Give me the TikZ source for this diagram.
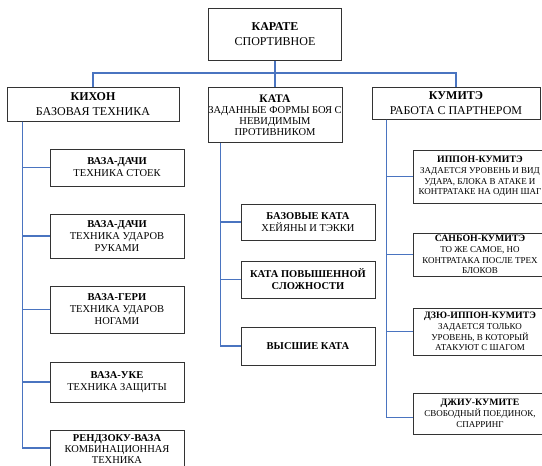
\documentclass[tikz,border=0pt]{standalone}
\usepackage{fontspec}
\setmainfont{Liberation Serif}
\definecolor{connblue}{HTML}{4A74C0}
\begin{document}
\begin{tikzpicture}[x=1pt,y=-1pt,
  box/.style={draw=black!80, line width=1pt, align=center, inner sep=0pt, fill=white},
  big/.style={box, font=\fontsize{12}{14.5}\selectfont},
  mid/.style={box, font=\fontsize{10.5}{11}\selectfont},
  kid/.style={box, font=\fontsize{10.5}{12}\selectfont},
  rkid/.style={box, font=\fontsize{9}{10.8}\selectfont},
  conn/.style={draw=connblue, line width=1.2pt}]
\clip (0,0) rectangle (542,466);
\fill[white] (0,0) rectangle (542,466);
% top
\node[big, minimum width=133pt, minimum height=52pt] (top) at (275,34) {\textbf{КАРАТЕ}\\СПОРТИВНОЕ};
% level 2
\node[big, minimum width=172pt, minimum height=34pt] (kihon) at (93,104) {\textbf{КИХОН}\\БАЗОВАЯ ТЕХНИКА};
\node[mid, minimum width=134pt, minimum height=55pt, anchor=north] (kata) at (275,87) {{\fontsize{11.5}{12.5}\selectfont\textbf{КАТА}}\\ЗАДАННЫЕ ФОРМЫ БОЯ С\\НЕВИДИМЫМ\\ПРОТИВНИКОМ};
\node[big, minimum width=168pt, minimum height=32pt] (kumite) at (456,103) {\textbf{КУМИТЭ}\\РАБОТА С ПАРТНЕРОМ};
% left children
\node[kid, minimum width=134pt, minimum height=37pt] (l1) at (117,167.5) {\textbf{ВАЗА-ДАЧИ}\\ТЕХНИКА СТОЕК};
\node[kid, minimum width=134pt, minimum height=44pt] (l2) at (117,236) {\textbf{ВАЗА-ДАЧИ}\\ТЕХНИКА УДАРОВ\\РУКАМИ};
\node[kid, minimum width=134pt, minimum height=47pt] (l3) at (117,309.5) {\textbf{ВАЗА-ГЕРИ}\\ТЕХНИКА УДАРОВ\\НОГАМИ};
\node[kid, minimum width=134pt, minimum height=40pt] (l4) at (117,382) {\textbf{ВАЗА-УКЕ}\\ТЕХНИКА ЗАЩИТЫ};
\node[kid, font=\fontsize{10.5}{11}\selectfont, minimum width=134pt, minimum height=38pt, anchor=north] (l5) at (117,430) {\textbf{РЕНДЗОКУ-ВАЗА}\\КОМБИНАЦИОННАЯ\\ТЕХНИКА};
% middle children
\node[kid, minimum width=134pt, minimum height=36pt] (m1) at (308,222) {\textbf{БАЗОВЫЕ КАТА}\\ХЕЙЯНЫ И ТЭККИ};
\node[kid, minimum width=134pt, minimum height=37pt] (m2) at (308,279.5) {\textbf{КАТА ПОВЫШЕННОЙ}\\\textbf{СЛОЖНОСТИ}};
\node[kid, minimum width=134pt, minimum height=38pt] (m3) at (308,346) {\textbf{ВЫСШИЕ КАТА}};
% right children
\node[rkid, minimum width=134pt, minimum height=53pt] (r1) at (480,176.5) {{\fontsize{9.8}{11}\selectfont\textbf{ИППОН-КУМИТЭ}}\\ЗАДАЕТСЯ УРОВЕНЬ И ВИД\\УДАРА, БЛОКА В АТАКЕ И\\КОНТРАТАКЕ НА ОДИН ШАГ};
\node[rkid, minimum width=134pt, minimum height=43pt] (r2) at (480,254.5) {{\fontsize{9.8}{11}\selectfont\textbf{САНБОН-КУМИТЭ}}\\ТО ЖЕ САМОЕ, НО\\КОНТРАТАКА ПОСЛЕ ТРЕХ\\БЛОКОВ};
\node[rkid, minimum width=134pt, minimum height=47pt] (r3) at (480,331.5) {{\fontsize{9.8}{11}\selectfont\textbf{ДЗЮ-ИППОН-КУМИТЭ}}\\ЗАДАЕТСЯ ТОЛЬКО\\УРОВЕНЬ, В КОТОРЫЙ\\АТАКУЮТ С ШАГОМ};
\node[rkid, minimum width=134pt, minimum height=41pt] (r4) at (480,413.5) {{\fontsize{9.8}{11}\selectfont\textbf{ДЖИУ-КУМИТЕ}}\\СВОБОДНЫЙ ПОЕДИНОК,\\СПАРРИНГ};
% connectors
\coordinate (hb) at (275,73);
\draw[conn] (top.south) -- (hb);
\draw[conn] (hb) -| (kihon.north);
\draw[conn] (hb) -- (kata.north);
\draw[conn] (hb) -| (kumite.north);
\foreach \c in {l1,l2,l3,l4} \draw[conn] (kihon.south west) ++(16,0) |- (\c.west);
\path (l5.north west) ++(0,18) coordinate (l5c);
\draw[conn] (kihon.south west) ++(16,0) |- (l5c);
\foreach \c in {m1,m2,m3} \draw[conn] (kata.south west) ++(13,0) |- (\c.west);
\foreach \c in {r1,r2,r3} \draw[conn] (kumite.south west) ++(15,0) |- (\c.west);
\draw[conn] (kumite.south west) ++(15,0) |- ([yshift=-4pt]r4.west);
\end{tikzpicture}
\end{document}
